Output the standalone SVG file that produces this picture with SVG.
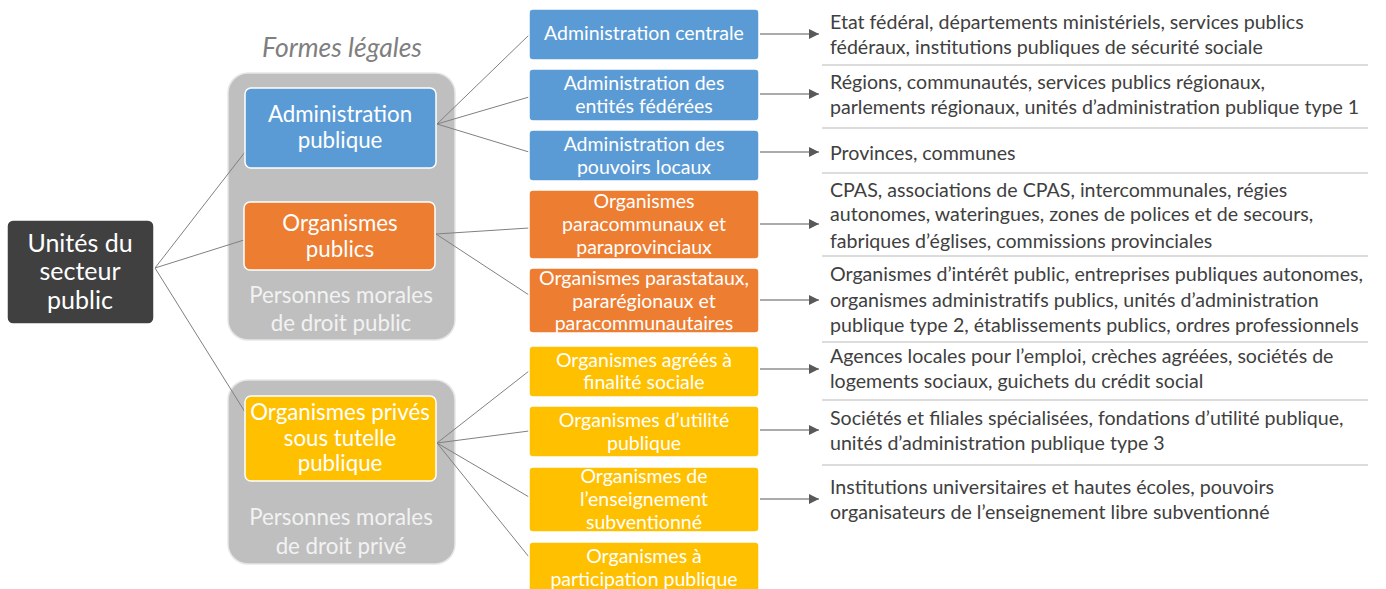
<svg xmlns="http://www.w3.org/2000/svg" width="1386" height="589" viewBox="0 0 1386 589">
  <defs>
    <marker id="arrow" viewBox="0 0 10 10" refX="10" refY="5" markerWidth="10" markerHeight="10" markerUnits="userSpaceOnUse" orient="auto">
      <path d="M0,0 L10,5 L0,10 Z" fill="#595959"/>
    </marker>
    <style>
      text { font-family: Lato, "Open Sans", "Liberation Sans", sans-serif; }
      .group { fill: #bfbfbf; stroke: #e6e6e6; stroke-width: 1.5; }
      .grouplabel { fill: #f2f2f2; font-size: 22.3px; text-anchor: middle; }
      .blue { fill: #5b9bd5; stroke: #ffffff; stroke-width: 1.5; }
      .orange { fill: #ed7d31; stroke: #ffffff; stroke-width: 1.5; }
      .yellow { fill: #ffc000; stroke: #ffffff; stroke-width: 1.5; }
      .dark { fill: #404040; stroke: #ffffff; stroke-width: 1.5; }
      .big { fill: #ffffff; font-size: 22.3px; text-anchor: middle; }
      .root { fill: #ffffff; font-size: 25px; text-anchor: middle; }
      .mid { fill: #ffffff; font-size: 19.5px; text-anchor: middle; }
      .desc { fill: #404040; font-size: 19.6px; }
      .link { stroke: #808080; stroke-width: 1; fill: none; }
      .arrow { stroke: #595959; stroke-width: 1.2; fill: none; marker-end: url(#arrow); }
      .sep { stroke: #d0d0d0; stroke-width: 1.5; }
      .title { fill: #7f7f7f; font-size: 26.5px; font-style: italic; text-anchor: middle; }
    </style>
  </defs>
  <rect width="1386" height="589" fill="#ffffff"/>

  <text class="title" x="342" y="57">Formes légales</text>

  <!-- containers for legal forms -->
  <g id="group-public">
    <rect class="group" x="228" y="73" width="227" height="267" rx="20"/>
    <text class="grouplabel" x="341" y="303">Personnes morales</text>
    <text class="grouplabel" x="341" y="331">de droit public</text>
  </g>
  <g id="group-private">
    <rect class="group" x="228" y="380" width="227" height="184" rx="20"/>
    <text class="grouplabel" x="341" y="525">Personnes morales</text>
    <text class="grouplabel" x="341" y="554">de droit privé</text>
  </g>

  <!-- connectors -->
  <g id="connectors">
    <line class="link" x1="155" y1="268" x2="245" y2="152"/>
    <line class="link" x1="155" y1="268" x2="244" y2="240"/>
    <line class="link" x1="155" y1="268" x2="245" y2="412"/>

    <line class="link" x1="437" y1="124" x2="529" y2="35"/>
    <line class="link" x1="437" y1="124" x2="529" y2="97"/>
    <line class="link" x1="437" y1="124" x2="529" y2="152"/>

    <line class="link" x1="436" y1="234" x2="529" y2="228"/>
    <line class="link" x1="436" y1="234" x2="529" y2="295"/>

    <line class="link" x1="437" y1="443" x2="529" y2="371"/>
    <line class="link" x1="437" y1="443" x2="529" y2="431"/>
    <line class="link" x1="437" y1="443" x2="529" y2="497"/>
    <line class="link" x1="437" y1="443" x2="529" y2="557"/>

    <line class="arrow" x1="760" y1="34" x2="819" y2="34"/>
    <line class="arrow" x1="760" y1="94" x2="819" y2="94"/>
    <line class="arrow" x1="760" y1="152" x2="819" y2="152"/>
    <line class="arrow" x1="760" y1="224" x2="819" y2="224"/>
    <line class="arrow" x1="760" y1="300" x2="819" y2="300"/>
    <line class="arrow" x1="760" y1="369" x2="819" y2="369"/>
    <line class="arrow" x1="760" y1="430" x2="819" y2="430"/>
    <line class="arrow" x1="760" y1="499" x2="819" y2="499"/>
  </g>

  <!-- root -->
  <g id="node-root">
    <rect class="dark" x="7" y="220" width="147" height="104" rx="6"/>
    <text class="root" x="80" y="252">Unités du</text>
    <text class="root" x="80" y="280">secteur</text>
    <text class="root" x="80" y="309">public</text>
  </g>

  <!-- legal forms -->
  <g id="node-admin-publique">
    <rect class="blue" x="245" y="88" width="191" height="80" rx="6"/>
    <text class="big" x="340" y="122">Administration</text>
    <text class="big" x="340" y="148">publique</text>
  </g>
  <g id="node-org-publics">
    <rect class="orange" x="244" y="202" width="191" height="68" rx="6"/>
    <text class="big" x="340" y="231">Organismes</text>
    <text class="big" x="340" y="257">publics</text>
  </g>
  <g id="node-org-prives">
    <rect class="yellow" x="245" y="396" width="191" height="85" rx="6"/>
    <text class="big" x="340" y="420">Organismes privés</text>
    <text class="big" x="340" y="446">sous tutelle</text>
    <text class="big" x="340" y="471">publique</text>
  </g>

  <!-- categories -->
  <g id="node-admin-centrale">
    <rect class="blue" x="529" y="9" width="230" height="51" rx="4"/>
    <text class="mid" x="644" y="40">Administration centrale</text>
  </g>
  <g id="node-admin-federees">
    <rect class="blue" x="529" y="69" width="230" height="52" rx="4"/>
    <text class="mid" x="644" y="90">Administration des</text>
    <text class="mid" x="644" y="113">entités fédérées</text>
  </g>
  <g id="node-admin-locaux">
    <rect class="blue" x="529" y="130" width="230" height="51" rx="4"/>
    <text class="mid" x="644" y="151">Administration des</text>
    <text class="mid" x="644" y="174">pouvoirs locaux</text>
  </g>
  <g id="node-paracommunaux">
    <rect class="orange" x="529" y="190" width="230" height="69" rx="4"/>
    <text class="mid" x="644" y="208">Organismes</text>
    <text class="mid" x="644" y="231">paracommunaux et</text>
    <text class="mid" x="644" y="254">paraprovinciaux</text>
  </g>
  <g id="node-parastataux">
    <rect class="orange" x="529" y="268" width="230" height="65" rx="4"/>
    <text class="mid" x="644" y="285">Organismes parastataux,</text>
    <text class="mid" x="644" y="308">pararégionaux et</text>
    <text class="mid" x="644" y="330">paracommunautaires</text>
  </g>
  <g id="node-agrees">
    <rect class="yellow" x="529" y="346" width="230" height="51" rx="4"/>
    <text class="mid" x="644" y="367">Organismes agréés à</text>
    <text class="mid" x="644" y="389">finalité sociale</text>
  </g>
  <g id="node-utilite">
    <rect class="yellow" x="529" y="406" width="230" height="51" rx="4"/>
    <text class="mid" x="644" y="427">Organismes d’utilité</text>
    <text class="mid" x="644" y="450">publique</text>
  </g>
  <g id="node-enseignement">
    <rect class="yellow" x="529" y="467" width="230" height="65" rx="4"/>
    <text class="mid" x="644" y="483">Organismes de</text>
    <text class="mid" x="644" y="506">l’enseignement</text>
    <text class="mid" x="644" y="529">subventionné</text>
  </g>
  <g id="node-participation">
    <rect class="yellow" x="529" y="542" width="230" height="60" rx="4"/>
    <text class="mid" x="644" y="563">Organismes à</text>
    <text class="mid" x="644" y="586">participation publique</text>
  </g>

  <!-- separators between descriptions -->
  <g id="separators">
    <line class="sep" x1="822" y1="65" x2="1368" y2="65"/>
    <line class="sep" x1="822" y1="128" x2="1368" y2="128"/>
    <line class="sep" x1="822" y1="173" x2="1368" y2="173"/>
    <line class="sep" x1="822" y1="256" x2="1368" y2="256"/>
    <line class="sep" x1="822" y1="342" x2="1368" y2="342"/>
    <line class="sep" x1="822" y1="400" x2="1368" y2="400"/>
    <line class="sep" x1="822" y1="465" x2="1368" y2="465"/>
  </g>

  <!-- descriptions -->
  <g id="desc-centrale">
    <text class="desc" x="830" y="29">Etat fédéral, départements ministériels, services publics</text>
    <text class="desc" x="830" y="54">fédéraux, institutions publiques de sécurité sociale</text>
  </g>
  <g id="desc-federees">
    <text class="desc" x="830" y="89">Régions, communautés, services publics régionaux,</text>
    <text class="desc" x="830" y="114">parlements régionaux, unités d’administration publique type 1</text>
  </g>
  <g id="desc-locaux">
    <text class="desc" x="830" y="160">Provinces, communes</text>
  </g>
  <g id="desc-paracommunaux">
    <text class="desc" x="830" y="197">CPAS, associations de CPAS, intercommunales, régies</text>
    <text class="desc" x="830" y="221">autonomes, wateringues, zones de polices et de secours,</text>
    <text class="desc" x="830" y="248">fabriques d’églises, commissions provinciales</text>
  </g>
  <g id="desc-parastataux">
    <text class="desc" x="830" y="281">Organismes d’intérêt public, entreprises publiques autonomes,</text>
    <text class="desc" x="830" y="307">organismes administratifs publics, unités d’administration</text>
    <text class="desc" x="830" y="332">publique type 2, établissements publics, ordres professionnels</text>
  </g>
  <g id="desc-agrees">
    <text class="desc" x="830" y="363">Agences locales pour l’emploi, crèches agréées, sociétés de</text>
    <text class="desc" x="830" y="388">logements sociaux, guichets du crédit social</text>
  </g>
  <g id="desc-utilite">
    <text class="desc" x="830" y="425">Sociétés et filiales spécialisées, fondations d’utilité publique,</text>
    <text class="desc" x="830" y="450">unités d’administration publique type 3</text>
  </g>
  <g id="desc-enseignement">
    <text class="desc" x="830" y="494">Institutions universitaires et hautes écoles, pouvoirs</text>
    <text class="desc" x="830" y="519">organisateurs de l’enseignement libre subventionné</text>
  </g>
</svg>
